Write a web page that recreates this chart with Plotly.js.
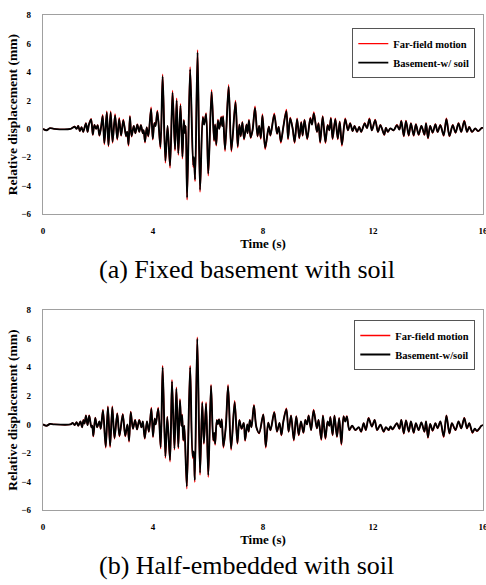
<!DOCTYPE html>
<html>
<head>
<meta charset="utf-8">
<script src="https://cdn.plot.ly/plotly-3.0.1.min.js"></script>
<style>html,body{margin:0;padding:0;background:#fff;}#chart{width:486px;height:585px;}</style>
</head>
<body>
<div id="chart"></div>
<script>
// ---- (a) Fixed basement with soil ----
const timeA = [0,0.13,0.25,0.40,1.00,1.05,1.15,1.22,1.28,1.34,1.40,1.46,1.56,1.62,1.67,1.75,1.81,1.87,1.93,1.99,2.05,2.11,2.17,2.23,2.32,2.38,2.46,2.53,2.62,2.70,2.77,2.84,2.92,3.02,3.06,3.11,3.16,3.22,3.30,3.36,3.43,3.50,3.56,3.63,3.66,3.71,3.77,3.83,3.93,3.99,4.05,4.09,4.16,4.27,4.35,4.45,4.53,4.62,4.71,4.80,4.86,4.92,5.00,5.07,5.12,5.16,5.19,5.24,5.35,5.46,5.49,5.53,5.62,5.71,5.81,5.86,5.93,6.01,6.13,6.22,6.26,6.30,6.36,6.41,6.48,6.52,6.55,6.62,6.75,6.85,7.00,7.08,7.14,7.19,7.25,7.31,7.40,7.44,7.49,7.55,7.62,7.71,7.80,7.86,7.92,7.98,8.08,8.21,8.27,8.41,8.51,8.57,8.65,8.74,8.85,8.91,8.99,9.08,9.15,9.24,9.32,9.39,9.44,9.51,9.61,9.72,9.78,9.85,9.96,10.02,10.08,10.17,10.27,10.35,10.41,10.47,10.53,10.63,10.72,10.79,10.87,10.99,11.09,11.17,11.26,11.33,11.42,11.50,11.57,11.70,11.78,11.87,11.96,12.08,12.18,12.27,12.41,12.47,12.54,12.63,12.75,12.87,12.96,13.03,13.12,13.20,13.30,13.38,13.48,13.56,13.66,13.76,13.87,13.93,14.00,14.08,14.17,14.27,14.35,14.45,14.57,14.67,14.78,14.90,15.00,15.11,15.21,15.32,15.42,15.50,15.60,15.72,15.82,15.96,16.00];
const basementA = [0,-0.1,0.05,0,0,0.05,0.15,0,0.2,-0.15,0.12,-0.2,0.38,-0.2,0.3,0.66,-0.4,0.28,0,0.25,-0.45,0.1,0.91,-1.0,1.15,-1.15,1.15,-0.9,0.95,-0.7,0.7,-0.45,0.6,-0.5,-0.2,-1.1,0.85,-0.5,0.2,-0.3,0.3,-0.2,0.25,-0.3,-0.1,-0.9,0.1,-0.5,1.4,-0.7,0.4,0.2,1.2,-1.27,3.7,-2.25,0.2,-2.6,2.55,-1.43,2.0,-1.73,1.65,-1.97,0.6,-0.3,0.2,-4.85,4.2,-2.56,-2.0,-3.57,5.4,-4.3,0.8,0.3,1.03,-3.15,2.6,-0.8,0.3,-1.1,0.6,0.0,0.8,0.2,0.85,-1.45,2.96,-1.5,1.88,-1.22,0.3,-0.5,0.45,-0.7,0.3,-0.3,0.6,-0.6,-0.1,1.48,-0.5,0.2,-0.65,0.95,-1.33,0.15,-0.45,1.0,-0.33,0.14,-0.9,0.14,1.25,-0.68,0.73,0.0,-0.92,0.68,-0.63,0.45,-0.45,0.61,-0.68,0.73,0.3,1.08,-0.21,0.38,-0.92,0.85,-0.92,0.26,-0.1,0.73,-0.68,0.68,-0.68,0.49,-1.1,0.68,-0.1,0.38,-0.16,0.21,-0.21,0.14,-0.21,0.38,0.05,0.68,-0.1,0.61,-0.21,0.26,-0.4,0.07,-0.21,0.03,-0.1,0.26,-0.05,0.54,-0.49,0.54,-0.45,0.38,-0.45,0.31,-0.4,0.21,-0.4,0.38,-0.63,0.21,-0.26,0.31,-0.21,0.26,-0.45,0.68,-0.49,0.26,-0.26,0.38,-0.21,0.54,-0.21,0.14,-0.21,0.03,-0.16,0.07,0.05];
const farFieldA = [0,-0.1,0.05,0,0,0.05,0.17,0,0.22,-0.17,0.14,-0.22,0.42,-0.22,0.32,0.72,-0.44,0.3,0,0.27,-0.5,0.1,1.0,-1.1,1.25,-1.25,1.25,-1.0,1.05,-0.78,0.78,-0.5,0.66,-0.55,-0.2,-1.2,0.93,-0.55,0.22,-0.33,0.33,-0.22,0.27,-0.33,-0.1,-0.98,0.11,-0.55,1.52,-0.77,0.44,0.2,1.3,-1.4,3.85,-2.4,0.2,-2.75,2.7,-1.55,2.15,-1.85,1.78,-2.1,0.65,-0.32,0.22,-5.0,4.35,-2.7,-2.1,-3.7,5.55,-4.45,0.88,0.32,1.12,-3.3,2.75,-0.88,0.32,-1.2,0.66,0.0,0.88,0.2,0.93,-1.58,3.1,-1.62,2.0,-1.33,0.33,-0.55,0.5,-0.77,0.33,-0.33,0.66,-0.66,-0.1,1.6,-0.55,0.22,-0.72,1.05,-1.45,0.17,-0.5,1.1,-0.36,0.15,-0.99,0.15,1.37,-0.75,0.8,0.0,-1.01,0.75,-0.69,0.5,-0.5,0.67,-0.75,0.8,0.33,1.19,-0.23,0.42,-1.01,0.93,-1.01,0.29,-0.11,0.8,-0.75,0.75,-0.75,0.54,-1.21,0.75,-0.11,0.42,-0.18,0.23,-0.23,0.15,-0.23,0.42,0.05,0.75,-0.11,0.67,-0.23,0.29,-0.44,0.08,-0.23,0.03,-0.11,0.29,-0.05,0.59,-0.54,0.59,-0.5,0.42,-0.5,0.34,-0.44,0.23,-0.44,0.42,-0.69,0.23,-0.29,0.34,-0.23,0.29,-0.5,0.75,-0.54,0.29,-0.29,0.42,-0.23,0.59,-0.23,0.15,-0.23,0.03,-0.18,0.08,0.05];

// ---- (b) Half-embedded with soil ----
const timeB = [0,0.13,0.25,0.40,1.00,1.08,1.15,1.22,1.28,1.36,1.42,1.47,1.51,1.56,1.62,1.68,1.76,1.79,1.83,1.90,1.97,2.05,2.10,2.18,2.28,2.36,2.44,2.52,2.60,2.70,2.78,2.90,2.99,3.07,3.13,3.19,3.27,3.35,3.42,3.50,3.58,3.63,3.70,3.78,3.85,3.94,4.00,4.06,4.10,4.19,4.28,4.35,4.45,4.52,4.62,4.69,4.78,4.85,4.92,4.98,5.03,5.06,5.10,5.14,5.23,5.35,5.44,5.48,5.52,5.61,5.71,5.79,5.85,5.93,6.01,6.11,6.19,6.23,6.26,6.32,6.36,6.40,6.46,6.50,6.56,6.65,6.73,6.84,6.97,7.07,7.14,7.22,7.30,7.35,7.43,7.48,7.52,7.58,7.67,7.76,7.86,8.01,8.10,8.19,8.27,8.41,8.51,8.60,8.67,8.74,8.85,8.93,9.02,9.12,9.21,9.30,9.38,9.47,9.54,9.60,9.66,9.75,9.84,9.96,10.02,10.12,10.18,10.27,10.35,10.41,10.45,10.53,10.60,10.69,10.77,10.85,10.93,10.99,11.05,11.14,11.24,11.36,11.48,11.57,11.66,11.74,11.84,11.96,12.06,12.15,12.27,12.39,12.47,12.57,12.64,12.71,12.87,12.96,13.03,13.12,13.20,13.30,13.38,13.48,13.56,13.66,13.76,13.87,13.93,14.00,14.08,14.17,14.27,14.35,14.45,14.57,14.67,14.78,14.87,15.00,15.11,15.21,15.32,15.42,15.50,15.62,15.70,15.78,15.86,15.94,16.00];
const basementB = [0,-0.1,0.03,0,0,0.1,-0.05,0.15,-0.1,0.2,-0.2,0.3,0.05,0.6,-0.05,0.6,-0.2,-0.1,-0.8,0.45,-0.2,0.2,-0.3,0.97,-1.55,1.2,-1.5,1.2,-0.95,0.75,-0.8,0.7,-0.8,0.0,-1.15,0.85,-0.3,0.3,-0.35,0.3,-0.2,0.2,-0.95,0.2,-0.5,1.1,-0.85,0.4,0.0,1.1,-1.6,4.0,-2.25,0.5,-2.5,3.0,-1.7,2.5,-1.6,1.7,-0.1,0.65,-1.1,-0.1,-4.35,4.0,-2.25,-1.9,-3.9,6.0,-3.4,1.5,-1.3,1.45,-3.55,2.7,-1.1,-0.6,-1.35,0.3,0.0,0.35,-0.2,0.35,-1.55,-0.1,2.67,-1.7,1.55,-1.3,0.3,-0.3,0.1,-1.1,0.0,-0.5,0.3,-0.2,1.3,-0.2,-0.6,0.67,-1.55,0.12,-0.4,0.83,-0.5,0.1,-0.73,0.2,1.06,-0.5,0.6,-1.08,0.55,-0.73,0.2,-0.57,0.31,0.0,0.6,-0.39,0.97,-0.27,0.31,-1.04,0.6,-0.97,0.2,-0.1,0.5,-0.73,0.6,-0.85,0.43,-1.36,0.55,0.2,0.55,-0.39,-0.1,-0.39,-0.2,-0.5,0.08,-0.39,0.43,-0.15,0.31,-0.39,-0.03,-0.5,-0.2,-0.39,-0.15,-0.34,0.08,-0.3,0.31,-0.62,0.27,-0.5,0.2,-0.57,0.08,-0.39,0.13,-0.5,0.2,-0.9,0.03,-0.43,0.08,-0.27,0.2,-0.84,0.6,-0.62,0.08,-0.39,0.2,-0.27,0.43,-0.27,0.08,-0.57,-0.3,-0.45,-0.3,-0.1,-0.05];
const farFieldB = [0,-0.1,0.03,0,0,0.1,-0.05,0.16,-0.1,0.21,-0.21,0.32,0.05,0.64,-0.05,0.64,-0.21,-0.1,-0.86,0.48,-0.21,0.21,-0.32,1.04,-1.65,1.28,-1.6,1.28,-1.02,0.8,-0.86,0.75,-0.86,0.0,-1.23,0.91,-0.32,0.32,-0.37,0.32,-0.21,0.21,-1.02,0.21,-0.53,1.18,-0.91,0.43,0.0,1.18,-1.7,4.12,-2.38,0.53,-2.62,3.12,-1.8,2.6,-1.7,1.8,-0.1,0.7,-1.17,-0.1,-4.5,4.12,-2.38,-2.0,-4.05,6.1,-3.55,1.6,-1.38,1.55,-3.7,2.8,-1.17,-0.64,-1.44,0.32,0.0,0.37,-0.21,0.37,-1.65,-0.1,2.78,-1.8,1.65,-1.38,0.32,-0.32,0.1,-1.17,0.0,-0.53,0.32,-0.21,1.38,-0.21,-0.64,0.72,-1.65,0.13,-0.43,0.89,-0.53,0.1,-0.78,0.21,1.13,-0.53,0.64,-1.15,0.59,-0.78,0.21,-0.61,0.33,0.0,0.64,-0.42,1.04,-0.29,0.33,-1.11,0.64,-1.04,0.21,-0.1,0.53,-0.78,0.64,-0.91,0.46,-1.45,0.59,0.21,0.59,-0.42,-0.1,-0.42,-0.21,-0.53,0.08,-0.42,0.46,-0.16,0.33,-0.42,-0.03,-0.53,-0.21,-0.42,-0.16,-0.36,0.08,-0.32,0.33,-0.66,0.29,-0.53,0.21,-0.61,0.08,-0.42,0.14,-0.53,0.21,-0.96,0.03,-0.46,0.08,-0.29,0.21,-0.9,0.64,-0.66,0.08,-0.42,0.21,-0.29,0.46,-0.29,0.08,-0.61,-0.32,-0.48,-0.32,-0.1,-0.05];

const xTicks = [0, 4, 8, 12, 16];
const yTicks = [-6, -4, -2, 0, 2, 4, 6, 8];
const seriesNames = ['Far-field motion', 'Basement-w/ soil', 'Basement-w/soil'];
const captions = ['(a) Fixed basement with soil', '(b) Half-embedded with soil'];

const SERIF = 'Liberation Serif, Times New Roman, serif';
const boldFont = (s) => ({family: SERIF, size: s, color: '#000', weight: 'bold'});

function line(x, y, name, color, width, xa, ya, lg) {
  return {x: x, y: y, name: name, type: 'scatter', mode: 'lines',
    line: {color: color, width: width, shape: 'spline', smoothing: 0.9},
    xaxis: xa, yaxis: ya, legend: lg, hoverinfo: 'skip'};
}

const data = [
  line(timeA, farFieldA, seriesNames[0], '#ff0000', 1.4, 'x', 'y', 'legend'),
  line(timeA, basementA, seriesNames[1], '#000000', 1.9, 'x', 'y', 'legend'),
  line(timeB, farFieldB, seriesNames[0], '#ff0000', 1.4, 'x2', 'y2', 'legend2'),
  line(timeB, basementB, seriesNames[2], '#000000', 1.9, 'x2', 'y2', 'legend2')
];

function xAxis(anchor) {
  return {domain: [0.0885, 0.9938], anchor: anchor, range: [0, 16], tickvals: xTicks,
    showgrid: false, zeroline: false, showline: true, mirror: true, linecolor: '#a0a0a0', linewidth: 1.2,
    ticks: '', tickfont: boldFont(9), ticklabelstandoff: 8, ticklabeloverflow: 'allow',
    title: {text: 'Time (s)', font: boldFont(13), standoff: 1}, automargin: false, fixedrange: true};
}
function yAxis(anchor, dom) {
  return {domain: dom, anchor: anchor, range: [-6, 8], tickvals: yTicks,
    showgrid: false, zeroline: false, showline: true, mirror: true, linecolor: '#a0a0a0', linewidth: 1.2,
    ticks: '', tickfont: boldFont(9), ticklabelstandoff: 9, ticklabeloverflow: 'allow',
    title: {text: 'Relative displacement (mm)', font: boldFont(13.5), standoff: 0}, automargin: false, fixedrange: true};
}

const legendBase = (y) => ({x: 0.978, xanchor: 'right', y: y, yanchor: 'top',
  bgcolor: '#ffffff', bordercolor: '#555555', borderwidth: 1,
  font: boldFont(10.5), tracegroupgap: 0, itemwidth: 30});

const layout = {
  width: 486, height: 585,
  margin: {l: 0, r: 0, t: 0, b: 0},
  paper_bgcolor: '#ffffff', plot_bgcolor: '#ffffff',
  showlegend: true,
  xaxis: xAxis('y'),
  yaxis: yAxis('x', [0.634, 0.974]),
  xaxis2: xAxis('y2'),
  yaxis2: yAxis('x2', [0.128, 0.470]),
  legend: legendBase(0.952),
  legend2: legendBase(0.453),
  annotations: [
    {text: captions[0], xref: 'paper', yref: 'paper', x: 0.508, y: 0.540, xanchor: 'center', yanchor: 'middle',
     showarrow: false, font: {family: SERIF, size: 26, color: '#000'}},
    {text: captions[1], xref: 'paper', yref: 'paper', x: 0.508, y: 0.033, xanchor: 'center', yanchor: 'middle',
     showarrow: false, font: {family: SERIF, size: 26, color: '#000'}}
  ]
};

Plotly.newPlot('chart', data, layout, {staticPlot: true, displayModeBar: false});
</script>
</body>
</html>
